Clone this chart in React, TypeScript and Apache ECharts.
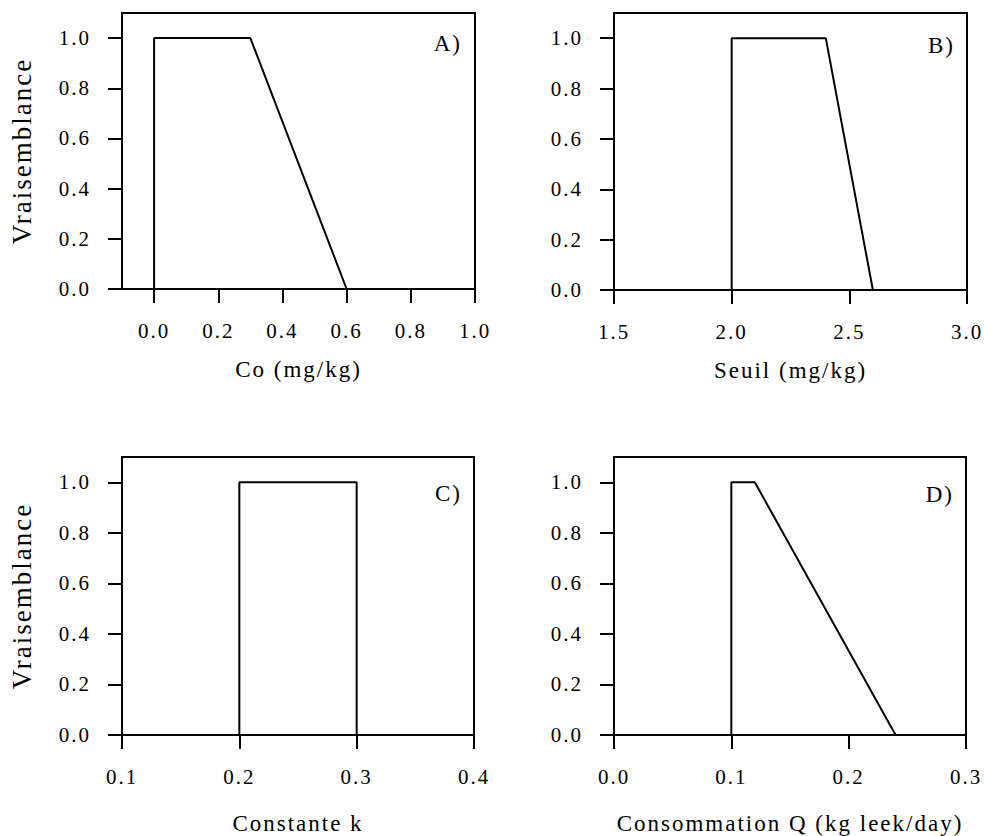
import React, { useEffect, useRef } from "react";
import * as echarts from "echarts";

// Panel A: Co (mg/kg)
const xA = [0, 0, 0.3, 0.6, 1.0];
const yA = [0, 1, 1, 0, 0];
// Panel B: Seuil (mg/kg)
const xB = [1.5, 2.0, 2.0, 2.4, 2.6, 3.0];
const yB = [0, 0, 1, 1, 0, 0];
// Panel C: Constante k
const xC = [0.1, 0.2, 0.2, 0.3, 0.3, 0.4];
const yC = [0, 0, 1, 1, 0, 0];
// Panel D: Consommation Q
const xD = [0, 0.1, 0.1, 0.12, 0.24, 0.3];
const yD = [0, 0, 1, 1, 0, 0];

const ticksA = [0, 0.2, 0.4, 0.6, 0.8, 1.0];
const ticksB = [1.5, 2.0, 2.5, 3.0];
const ticksC = [0.1, 0.2, 0.3, 0.4];
const ticksD = [0, 0.1, 0.2, 0.3];
const yTicks = [0, 0.2, 0.4, 0.6, 0.8, 1.0];

const xRanges = [
  [-0.1, 1.0],
  [1.5, 3.0],
  [0.1, 0.4],
  [0, 0.3],
];
const xNames = ["Co (mg/kg)", "Seuil (mg/kg)", "Constante k", "Consommation Q (kg leek/day)"];
const yName = "Vraisemblance";
const panelLabels = ["A)", "B)", "C)", "D)"];

const FONT = "'Liberation Serif', 'Times New Roman', serif";

export default function App() {
  const ref = useRef<HTMLDivElement>(null);
  useEffect(() => {
    if (!ref.current) return;
    const chart = echarts.init(ref.current, undefined, { renderer: "svg" });
    const grids = [
      { left: 122, top: 13, width: 353, height: 276 },
      { left: 614, top: 13, width: 353, height: 277 },
      { left: 122, top: 457, width: 352, height: 279 },
      { left: 614, top: 457, width: 352, height: 279 },
    ];
    const xs = [xA, xB, xC, xD];
    const ys = [yA, yB, yC, yD];
    const tks = [ticksA, ticksB, ticksC, ticksD];
    const nameGaps = [69, 69, 77, 77];
    const axisLine = { show: true, onZero: false, lineStyle: { color: "#000", width: 2 } };
    const axisTick = (vals: number[]) => ({
      show: true,
      inside: false,
      length: 14,
      lineStyle: { color: "#000", width: 2 },
      customValues: vals,
    });
    const option: any = {
      animation: false,
      backgroundColor: "#fff",
      textStyle: { fontFamily: FONT, color: "#000" },
      grid: grids.map((g) => ({
        ...g,
        show: true,
        borderColor: "#000",
        borderWidth: 2,
        backgroundColor: "transparent",
        containLabel: false,
      })),
      xAxis: grids.map((_, i) => ({
        type: "value",
        gridIndex: i,
        min: xRanges[i][0],
        max: xRanges[i][1],
        splitLine: { show: false },
        axisLine,
        axisTick: axisTick(tks[i]),
        axisLabel: {
          customValues: tks[i],
          margin: 31,
          fontSize: 21,
          fontFamily: FONT,
          color: "#000",
          formatter: (v: number) => v.toFixed(1),
        },
        name: xNames[i],
        nameLocation: "middle",
        nameGap: nameGaps[i],
        nameTextStyle: { fontSize: 23, fontFamily: FONT, color: "#000" },
      })),
      yAxis: grids.map((_, i) => ({
        type: "value",
        gridIndex: i,
        min: 0,
        max: 1.1,
        splitLine: { show: false },
        axisLine,
        axisTick: axisTick(yTicks),
        axisLabel: {
          customValues: yTicks,
          margin: 31,
          fontSize: 21,
          fontFamily: FONT,
          color: "#000",
          formatter: (v: number) => v.toFixed(1),
        },
        name: i % 2 === 0 ? yName : "",
        nameLocation: "middle",
        nameGap: 87,
        nameRotate: 90,
        nameTextStyle: { fontSize: 27, fontFamily: FONT, color: "#000" },
      })),
      series: grids.map((_, i) => ({
        type: "line",
        xAxisIndex: i,
        yAxisIndex: i,
        data: xs[i].map((x, j) => [x, ys[i][j]]),
        symbol: "none",
        clip: false,
        lineStyle: { color: "#000", width: 2 },
        itemStyle: { color: "#000" },
      })),
      graphic: [
        { x: 462, y: 43 },
        { x: 955, y: 45 },
        { x: 462, y: 493 },
        { x: 954, y: 494 },
      ].map((p, i) => ({
        type: "text",
        x: p.x,
        y: p.y,
        style: {
          text: panelLabels[i],
          fontSize: 23,
          fontFamily: FONT,
          fill: "#000",
          textAlign: "right",
          textVerticalAlign: "middle",
        },
      })),
    };
    chart.setOption(option);
    return () => chart.dispose();
  }, []);
  return (
    <div
      ref={ref}
      style={{
        position: "fixed",
        left: 0,
        top: 0,
        width: 984,
        height: 836,
        letterSpacing: "2px",
        background: "#fff",
      }}
    />
  );
}
